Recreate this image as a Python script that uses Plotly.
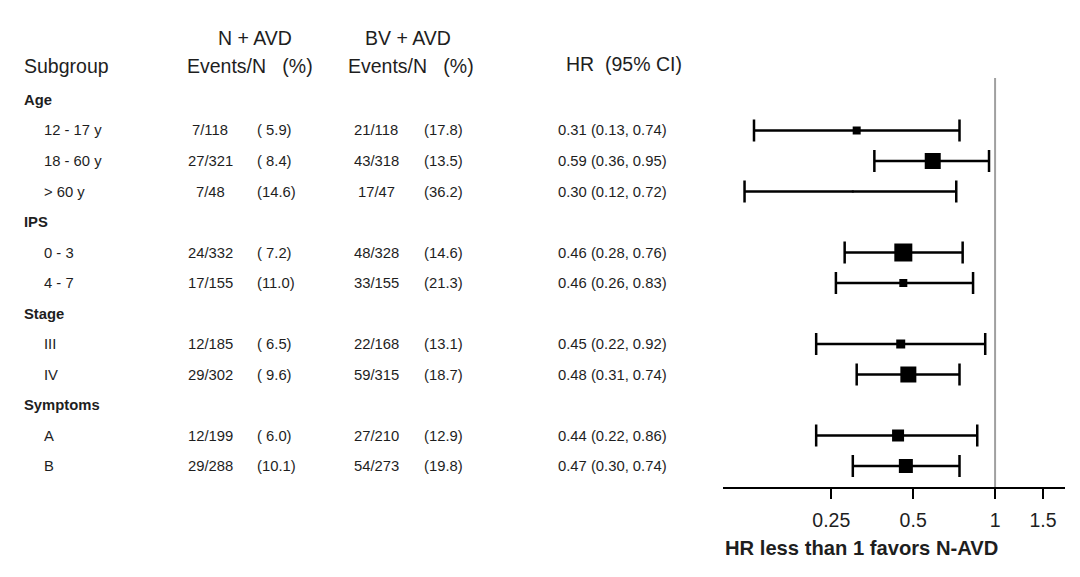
#! /usr/bin/env python3

import plotly.graph_objects as go

# data
groups = ["Age", "IPS", "Stage", "Symptoms"]
subgroups = ["12 - 17 y", "18 - 60 y", "> 60 y", "0 - 3", "4 - 7", "III", "IV", "A", "B"]
group_idx = [0, 0, 0, 1, 1, 2, 2, 3, 3]
n_events = ["7/118", "27/321", "7/48", "24/332", "17/155", "12/185", "29/302", "12/199", "29/288"]
n_pct = ["( 5.9)", "( 8.4)", "(14.6)", "( 7.2)", "(11.0)", "( 6.5)", "( 9.6)", "( 6.0)", "(10.1)"]
bv_events = ["21/118", "43/318", "17/47", "48/328", "33/155", "22/168", "59/315", "27/210", "54/273"]
bv_pct = ["(17.8)", "(13.5)", "(36.2)", "(14.6)", "(21.3)", "(13.1)", "(18.7)", "(12.9)", "(19.8)"]
hr = [0.31, 0.59, 0.30, 0.46, 0.46, 0.45, 0.48, 0.44, 0.47]
ci_lo = [0.13, 0.36, 0.12, 0.28, 0.26, 0.22, 0.31, 0.22, 0.30]
ci_hi = [0.74, 0.95, 0.72, 0.76, 0.83, 0.92, 0.74, 0.86, 0.74]
box_size = [8, 16, 2, 18, 8, 9, 16, 12, 14]
hr_ticks = [0.25, 0.5, 1, 1.5]
hr_tick_text = ["0.25", "0.5", "1", "1.5"]

# page body has an 8px margin, so the figure is drawn a bit smaller and all
# pixel positions below are page positions shifted by that margin
OFF = 8
W, H = 1080 - 2 * OFF, 577 - 2 * OFF
FONT = "Liberation Sans, Arial, sans-serif"
TXT = "#1e1e1e"


def px(x):
    return (x - OFF) / W


def py(y):
    return 1 - (y - OFF) / H


# row positions: group header, then its subgroups
group_row = []
sub_row = []
r = 0
for g in range(len(groups)):
    group_row.append(r)
    r += 1
    for i, gi in enumerate(group_idx):
        if gi == g:
            sub_row.append(r)
            r += 1

fig = go.Figure()

fig.add_trace(go.Scatter(
    x=hr, y=sub_row, mode="markers",
    marker=dict(symbol="square", size=box_size, color="#000000", opacity=1,
                line=dict(width=0)),
    error_x=dict(
        type="data", symmetric=False,
        array=[h - m for h, m in zip(ci_hi, hr)],
        arrayminus=[m - l for m, l in zip(hr, ci_lo)],
        color="black", thickness=2.5, width=11,
    ),
    showlegend=False, hoverinfo="skip",
))

fig.add_shape(type="line", xref="x", yref="y domain", x0=1, x1=1, y0=0, y1=1,
              line=dict(color="#a0a0a0", width=2), layer="below")

ann = []


def txt(x, y, s, size=14.8, anchor="left", bold=False, yref="y"):
    ann.append(dict(
        x=px(x), xref="paper", y=y, yref=yref, text=("<b>%s</b>" % s) if bold else s,
        showarrow=False, xanchor=anchor, yanchor="middle",
        font=dict(family=FONT, size=size, color=TXT),
    ))


# headers
hsize = 19.5
txt(255, py(38), "N + AVD", hsize, "center", yref="paper")
txt(408, py(38), "BV + AVD", hsize, "center", yref="paper")
txt(22, py(66), "Subgroup", hsize, yref="paper")
txt(250, py(66), "Events/N   (%)", hsize, "center", yref="paper")
txt(411, py(66), "Events/N   (%)", hsize, "center", yref="paper")
txt(624, py(64), "HR  (95% CI)", hsize, "center", yref="paper")

for g, row in zip(groups, group_row):
    txt(22, row, g, 14.8, bold=True)

for i, row in enumerate(sub_row):
    txt(42, row, subgroups[i])
    txt(210, row, n_events[i], anchor="center")
    txt(255, row, n_pct[i])
    txt(376, row, bv_events[i], anchor="center")
    txt(422, row, bv_pct[i])
    txt(556, row, "%.2f (%.2f, %.2f)" % (hr[i], ci_lo[i], ci_hi[i]))

txt(723, py(548), "HR less than 1 favors N-AVD", 20.2, bold=True, yref="paper")

# rows every 30.5 px starting at y=100, plot area 78..487
top_px, bot_px, row0_px, step = 78, 487, 100, 30.5
y_top = (top_px - row0_px) / step
y_bot = (bot_px - row0_px) / step

fig.update_layout(
    width=W, height=H,
    margin=dict(l=0, r=0, t=0, b=0),
    paper_bgcolor="white", plot_bgcolor="white",
    annotations=ann,
    xaxis=dict(
        type="log", range=[-1.0, 0.257],
        domain=[px(723), px(1065)],
        tickvals=hr_ticks, ticktext=hr_tick_text,
        ticks="outside", ticklen=10, tickwidth=2, tickcolor="black",
        ticklabelstandoff=5,
        showline=True, linecolor="black", linewidth=2,
        showgrid=False, zeroline=False,
        tickfont=dict(family=FONT, size=19.5, color=TXT),
    ),
    yaxis=dict(
        range=[y_bot, y_top],
        domain=[py(bot_px), py(top_px)],
        visible=False, showgrid=False, zeroline=False,
    ),
)

fig.write_html("out.html")
